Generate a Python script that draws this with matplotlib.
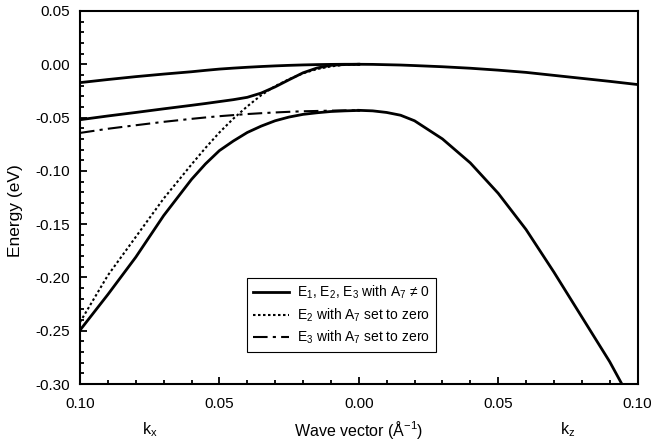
import numpy as np
import matplotlib.pyplot as plt
from matplotlib.ticker import MultipleLocator, FuncFormatter

plt.rcParams['font.family'] = ['Liberation Sans', 'DejaVu Sans']
plt.rcParams['mathtext.fontset'] = 'custom'
plt.rcParams['mathtext.rm'] = 'Liberation Sans'
plt.rcParams['mathtext.it'] = 'Liberation Sans'

# kx branch (plotted to the left of 0)
kx = [0.10, 0.09, 0.08, 0.07, 0.06, 0.055, 0.05, 0.045, 0.04, 0.035, 0.03,
      0.025, 0.02, 0.015, 0.01, 0.005, 0.0]
E1_kx = [-0.0172, -0.0143, -0.0116, -0.0092, -0.0070, -0.0057, -0.0045, -0.0036,
         -0.0028, -0.0021, -0.0015, -0.0010, -0.0006, -0.0003, -0.0001, 0.0, 0.0]
E2_kx = [-0.0520, -0.0485, -0.0452, -0.0418, -0.0385, -0.0368, -0.0350, -0.0332,
         -0.0310, -0.0270, -0.0212, -0.0145, -0.0080, -0.0035, -0.0010, -0.0002, 0.0]
E3_kx = [-0.2495, -0.2160, -0.1810, -0.1420, -0.1080, -0.0935, -0.0810, -0.0720,
         -0.0640, -0.0580, -0.0530, -0.0495, -0.0470, -0.0455, -0.0443, -0.0437, -0.0433]
E2_zero = [-0.2420, -0.1980, -0.1620, -0.1260, -0.0940, -0.0785, -0.0640, -0.0510,
           -0.0395, -0.0290, -0.0205, -0.0140, -0.0085, -0.0045, -0.0020, -0.0005, 0.0]
E3_zero = [-0.0644, -0.0605, -0.0572, -0.0540, -0.0512, -0.0499, -0.0487, -0.0477,
           -0.0467, -0.0459, -0.0452, -0.0446, -0.0441, -0.0438, -0.0435, -0.0433, -0.0432]

# kz branch (plotted to the right of 0)
kz = [0.0, 0.005, 0.01, 0.015, 0.02, 0.03, 0.04, 0.05, 0.06, 0.07, 0.08, 0.09,
      0.095, 0.10]
E12_kz = [0.0, -0.0001, -0.0004, -0.0007, -0.0012, -0.0023, -0.0037, -0.0055,
          -0.0076, -0.0104, -0.0132, -0.0160, -0.0175, -0.0190]
E3_kz = [-0.0432, -0.0437, -0.0452, -0.0478, -0.0530, -0.0700, -0.0925, -0.1210,
         -0.1550, -0.1950, -0.2370, -0.2790, -0.3030, -0.3300]

fig = plt.figure(figsize=(6.51, 4.47), dpi=100)
ax = fig.add_axes([0.1229, 0.1409, 0.8564, 0.8345])

xl = -np.array(kx)
ax.plot(xl, E1_kx, 'k-', lw=2, label="E$_\\mathregular{1}$, E$_\\mathregular{2}$, E$_\\mathregular{3}$ with A$_\\mathregular{7}$ \u2260 0")
ax.plot(xl, E2_kx, 'k-', lw=2)
ax.plot(xl, E3_kx, 'k-', lw=2)
ax.plot(kz, E12_kz, 'k-', lw=2)
ax.plot(kz, E3_kz, 'k-', lw=2)
ax.plot(xl, E2_zero, color='k', lw=1.5, ls=(0, (1.2, 1.2)),
        label=r"E$_\mathregular{2}$ with A$_\mathregular{7}$ set to zero")
ax.plot(xl, E3_zero, color='k', lw=1.5, ls=(0, (7, 2.5, 1.5, 2.5)),
        label=r"E$_\mathregular{3}$ with A$_\mathregular{7}$ set to zero")

ax.set_xlim(-0.10, 0.10)
ax.set_ylim(-0.30, 0.05)
ax.xaxis.set_major_locator(MultipleLocator(0.05))
ax.xaxis.set_minor_locator(MultipleLocator(0.01))
ax.yaxis.set_major_locator(MultipleLocator(0.05))
ax.yaxis.set_minor_locator(MultipleLocator(0.01))
ax.xaxis.set_major_formatter(FuncFormatter(lambda v, p: f"{abs(v):.2f}"))
ax.yaxis.set_major_formatter(FuncFormatter(lambda v, p: f"{v:.2f}".replace("-0.00", "0.00")))
ax.tick_params(which='both', direction='in', top=False, right=False, labelsize=11)
ax.tick_params(which='major', length=5, width=1.3)
ax.tick_params(which='minor', length=3, width=1.3)
ax.tick_params(axis='x', pad=9)
ax.tick_params(axis='y', pad=7)
for s in ax.spines.values():
    s.set_linewidth(1.5)

ax.set_ylabel("Energy (eV)", fontsize=12.5)
ax.yaxis.set_label_coords(-0.103, 0.466)
ax.set_xlabel(r"Wave vector (Å$^\mathregular{-1}$)", fontsize=11.5, va='center')
ax.xaxis.set_label_coords(0.5, -0.123)
ax.text(-0.075, -0.3432, r"k$_\mathregular{x}$", ha='center', va='center', fontsize=11.5)
ax.text(0.075, -0.3432, r"k$_\mathregular{z}$", ha='center', va='center', fontsize=11.5)

leg = ax.legend(loc='lower left', bbox_to_anchor=(0.2996, 0.0858), borderaxespad=0,
                fontsize=10, handlelength=2.6, fancybox=False, edgecolor='k',
                framealpha=1, labelspacing=0.38, borderpad=0.4, handletextpad=0.6)
leg.get_frame().set_linewidth(0.8)

fig.savefig("out.png", dpi=100)
